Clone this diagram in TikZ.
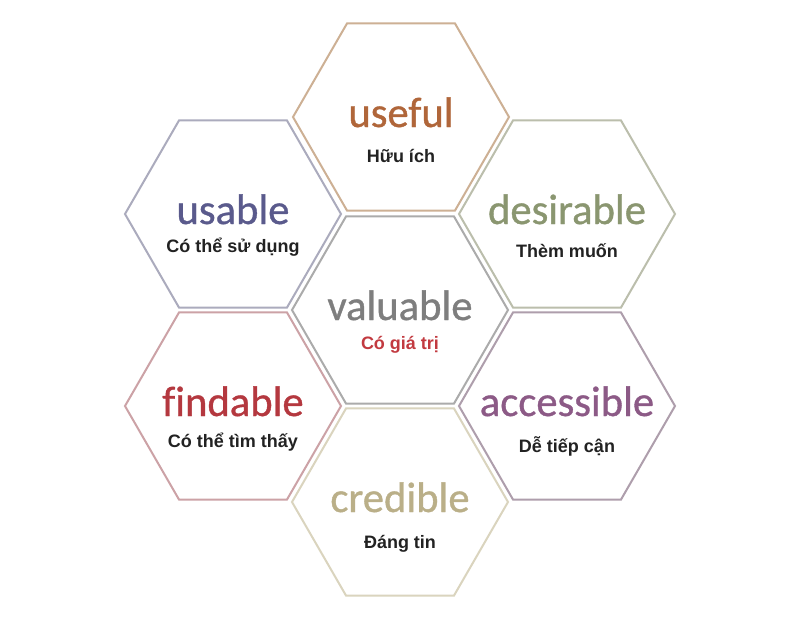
\documentclass[tikz,border=0pt]{standalone}
\usepackage{fontspec}
\setmainfont{Carlito}
\newfontfamily\wordfont{Carlito}[FakeBold=0.8, Ligatures=NoCommon]
\newfontfamily\subfont{Liberation Sans}
\definecolor{cUseful}{HTML}{B0663A}
\definecolor{bUseful}{HTML}{CDB094}
\definecolor{cUsable}{HTML}{5A5A8C}
\definecolor{bUsable}{HTML}{ABABBD}
\definecolor{cDesir}{HTML}{8A9670}
\definecolor{bDesir}{HTML}{BBBEAC}
\definecolor{cValu}{HTML}{7E7E7E}
\definecolor{bValu}{HTML}{ABABAB}
\definecolor{cAcc}{HTML}{8C5A86}
\definecolor{bAcc}{HTML}{AE9EAC}
\definecolor{cFind}{HTML}{B4383F}
\definecolor{bFind}{HTML}{CCA2A6}
\definecolor{cCred}{HTML}{BAAF88}
\definecolor{bCred}{HTML}{DAD4BE}
\definecolor{cRed}{HTML}{C23A40}
\definecolor{cSub}{HTML}{222222}
\tikzset{
  hexline/.style={line width=1.5pt, line join=miter},
  wordtext/.style={font=\wordfont\fontsize{32}{36}\selectfont, anchor=base, inner sep=0pt},
  subtext/.style={font=\subfont\bfseries\fontsize{13.5}{16}\selectfont, anchor=base, inner sep=0pt},
}
% #1 name, #2 x, #3 y, #4 border colour, #5 word, #6 word colour, #7 sub text, #8 sub colour, #9 sub offset
\newcommand\hexcell[9]{%
  \coordinate (#1) at (#2,#3);
  \draw[hexline, draw=#4] ($(#1)+(0:108)$) -- ++(120:108) -- ++(180:108) -- ++(240:108)
     -- ++(300:108) -- ++(0:108) -- cycle;
  \node[wordtext, text=#6] (#1-word) at ($(#1)+(0,10)$) {#5};
  \node[subtext, text=#8] (#1-sub) at ($(#1)+(0,#9)$) {#7};
}
\usetikzlibrary{calc}
\begin{document}
\begin{tikzpicture}[x=0.75pt, y=-0.75pt]
  \useasboundingbox[fill=white] (0,0) rectangle (800,619);
  \hexcell{useful}{401}{117}{bUseful}{useful}{cUseful}{Hữu ích}{cSub}{45}
  \hexcell{usable}{233}{214}{bUsable}{usable}{cUsable}{Có thể sử dụng}{cSub}{38}
  \hexcell{desirable}{567}{214}{bDesir}{desirable}{cDesir}{Thèm muốn}{cSub}{43}
  \hexcell{valuable}{400}{310}{bValu}{valuable}{cValu}{Có giá trị}{cRed}{39}
  \hexcell{findable}{233}{406}{bFind}{findable}{cFind}{Có thể tìm thấy}{cSub}{41}
  \hexcell{accessible}{567}{406}{bAcc}{accessible}{cAcc}{Dễ tiếp cận}{cSub}{46}
  \hexcell{credible}{400}{502}{bCred}{credible}{cCred}{Đáng tin}{cSub}{46}
\end{tikzpicture}
\end{document}
